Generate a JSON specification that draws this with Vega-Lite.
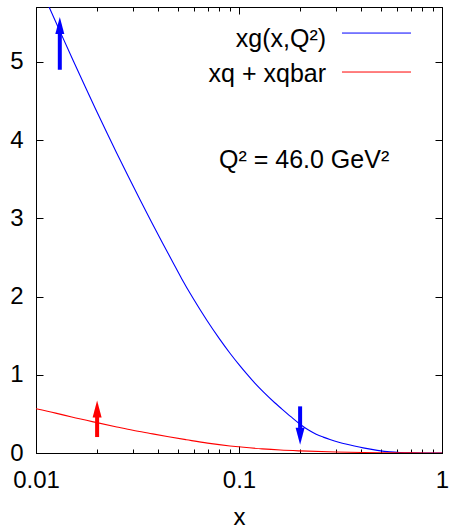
{
  "$schema": "https://vega.github.io/schema/vega-lite/v6.json",
  "width": 406,
  "height": 446,
  "autosize": {"type": "none"},
  "padding": {"left": 36, "top": 7, "right": 7, "bottom": 75},
  "background": "white",
  "config": {
    "font": "Liberation Sans",
    "view": {"stroke": "black", "strokeWidth": 1},
    "axis": {
      "domainColor": "black", "tickColor": "black", "labelColor": "black", "titleColor": "black",
      "grid": false, "labelFont": "Liberation Sans", "titleFont": "Liberation Sans",
      "labelFontSize": 24, "titleFontSize": 24, "titleFontWeight": "normal",
      "domainWidth": 1, "tickWidth": 1, "labelFlush": false, "labelOverlap": false
    }
  },
  "datasets": {
    "curves": [
      {"series": "xg", "x": 0.01, "y": 6.08},
      {"series": "xg", "x": 0.011, "y": 5.835},
      {"series": "xg", "x": 0.0116, "y": 5.70},
      {"series": "xg", "x": 0.013, "y": 5.413},
      {"series": "xg", "x": 0.0153, "y": 5.006},
      {"series": "xg", "x": 0.0175, "y": 4.677},
      {"series": "xg", "x": 0.0196, "y": 4.403},
      {"series": "xg", "x": 0.0225, "y": 4.077},
      {"series": "xg", "x": 0.025, "y": 3.832},
      {"series": "xg", "x": 0.0285, "y": 3.533},
      {"series": "xg", "x": 0.0325, "y": 3.239},
      {"series": "xg", "x": 0.037, "y": 2.955},
      {"series": "xg", "x": 0.042, "y": 2.683},
      {"series": "xg", "x": 0.047, "y": 2.448},
      {"series": "xg", "x": 0.0522, "y": 2.228},
      {"series": "xg", "x": 0.0593, "y": 1.98},
      {"series": "xg", "x": 0.0693, "y": 1.70},
      {"series": "xg", "x": 0.08, "y": 1.462},
      {"series": "xg", "x": 0.0903, "y": 1.275},
      {"series": "xg", "x": 0.1, "y": 1.129},
      {"series": "xg", "x": 0.1092, "y": 1.01},
      {"series": "xg", "x": 0.12, "y": 0.889},
      {"series": "xg", "x": 0.1318, "y": 0.78},
      {"series": "xg", "x": 0.15, "y": 0.642},
      {"series": "xg", "x": 0.159, "y": 0.585},
      {"series": "xg", "x": 0.18, "y": 0.465},
      {"series": "xg", "x": 0.2, "y": 0.368},
      {"series": "xg", "x": 0.22, "y": 0.293},
      {"series": "xg", "x": 0.24, "y": 0.24},
      {"series": "xg", "x": 0.26, "y": 0.203},
      {"series": "xg", "x": 0.2805, "y": 0.173},
      {"series": "xg", "x": 0.31, "y": 0.138},
      {"series": "xg", "x": 0.34, "y": 0.111},
      {"series": "xg", "x": 0.37, "y": 0.089},
      {"series": "xg", "x": 0.409, "y": 0.065},
      {"series": "xg", "x": 0.48, "y": 0.034},
      {"series": "xg", "x": 0.555, "y": 0.014},
      {"series": "xg", "x": 0.62, "y": 0.006},
      {"series": "xg", "x": 0.7, "y": 0.0018},
      {"series": "xg", "x": 0.8, "y": 0.0003},
      {"series": "xg", "x": 0.9, "y": 0},
      {"series": "xg", "x": 1.0, "y": 0},
      {"series": "xq", "x": 0.01, "y": 0.566},
      {"series": "xq", "x": 0.0125, "y": 0.51},
      {"series": "xq", "x": 0.015, "y": 0.46},
      {"series": "xq", "x": 0.0197, "y": 0.391},
      {"series": "xq", "x": 0.025, "y": 0.333},
      {"series": "xq", "x": 0.03, "y": 0.29},
      {"series": "xq", "x": 0.0365, "y": 0.25},
      {"series": "xq", "x": 0.045, "y": 0.208},
      {"series": "xq", "x": 0.055, "y": 0.17},
      {"series": "xq", "x": 0.07, "y": 0.126},
      {"series": "xq", "x": 0.0903, "y": 0.09},
      {"series": "xq", "x": 0.1, "y": 0.079},
      {"series": "xq", "x": 0.13, "y": 0.053},
      {"series": "xq", "x": 0.16, "y": 0.038},
      {"series": "xq", "x": 0.2, "y": 0.027},
      {"series": "xq", "x": 0.3, "y": 0.013},
      {"series": "xq", "x": 0.41, "y": 0.0065},
      {"series": "xq", "x": 0.5, "y": 0.0035},
      {"series": "xq", "x": 0.7, "y": 0.001},
      {"series": "xq", "x": 1.0, "y": 0}
    ],
    "arrows": [
      {"series": "xg", "dir": "up", "x": 0.0131, "y_from": 4.898, "y_base": 5.36, "y_tip": 5.572},
      {"series": "xq", "dir": "up", "x": 0.02, "y_from": 0.204, "y_base": 0.48, "y_tip": 0.672},
      {"series": "xg", "dir": "down", "x": 0.2, "y_from": 0.596, "y_base": 0.32, "y_tip": 0.106}
    ],
    "legend": [
      {"series": "xg", "label": "xg(x,Q²)", "tx": 0.2684, "ty": 5.193, "lx1": 0.3216, "lx2": 0.7035, "ly": 5.367},
      {"series": "xq", "label": "xq + xqbar", "tx": 0.2684, "ty": 4.741, "lx1": 0.3216, "lx2": 0.7035, "ly": 4.869}
    ],
    "note": [
      {"text": "Q² = 46.0 GeV²", "x": 0.0797, "y": 3.646}
    ]
  },
  "resolve": {"axis": {"x": "independent", "y": "independent"}},
  "layer": [
    {
      "data": {"name": "curves"},
      "mark": {"type": "line", "clip": true, "strokeWidth": 1.1, "interpolate": "monotone"},
      "encoding": {
        "x": {"field": "x", "type": "quantitative",
          "scale": {"type": "log", "domain": [0.01, 1], "nice": false},
          "axis": {
            "orient": "bottom",
            "values": [0.01,0.02,0.03,0.04,0.05,0.06,0.07,0.08,0.09,0.1,0.2,0.3,0.4,0.5,0.6,0.7,0.8,0.9,1],
            "format": "~g",
            "labelExpr": "abs(log(datum.value)/LN10 - round(log(datum.value)/LN10)) < 0.001 ? datum.label : ''",
            "tickSize": {"condition": {"test": "abs(log(datum.value)/LN10 - round(log(datum.value)/LN10)) < 0.001", "value": -7}, "value": -4},
            "labelPadding": 22,
            "title": "x",
            "titlePadding": 10
          }
        },
        "y": {"field": "y", "type": "quantitative",
          "scale": {"domain": [0, 5.7], "nice": false, "zero": false},
          "axis": {"orient": "left", "values": [0,1,2,3,4,5], "tickSize": -7, "labelPadding": 20, "title": null}
        },
        "color": {"field": "series", "type": "nominal", "scale": {"domain": ["xg", "xq"], "range": ["#0000ff", "#ff0000"]}, "legend": null}
      }
    },
    {
      "data": {"name": "arrows"},
      "mark": {"type": "rule", "strokeWidth": 4, "strokeCap": "butt"},
      "encoding": {
        "x": {"field": "x", "type": "quantitative",
          "scale": {"type": "log", "domain": [0.01, 1], "nice": false},
          "axis": {
            "orient": "top",
            "values": [0.01,0.02,0.03,0.04,0.05,0.06,0.07,0.08,0.09,0.1,0.2,0.3,0.4,0.5,0.6,0.7,0.8,0.9,1],
            "labels": false,
            "tickSize": {"condition": {"test": "abs(log(datum.value)/LN10 - round(log(datum.value)/LN10)) < 0.001", "value": -7}, "value": -4},
            "title": null
          }
        },
        "y": {"field": "y_from", "type": "quantitative",
          "scale": {"domain": [0, 5.7], "nice": false, "zero": false},
          "axis": {"orient": "right", "values": [0,1,2,3,4,5], "tickSize": -7, "labels": false, "title": null}
        },
        "y2": {"field": "y_base"},
        "color": {"field": "series", "type": "nominal", "scale": {"domain": ["xg", "xq"], "range": ["#0000ff", "#ff0000"]}, "legend": null}
      }
    },
    {
      "data": {"name": "arrows"},
      "mark": {"type": "point", "filled": true, "opacity": 1, "size": 400, "strokeWidth": 0},
      "encoding": {
        "x": {"field": "x", "type": "quantitative", "scale": {"type": "log", "domain": [0.01, 1], "nice": false}, "axis": null},
        "y": {"field": "y_tip", "type": "quantitative", "scale": {"domain": [0, 5.7], "nice": false, "zero": false}, "axis": null},
        "shape": {"field": "dir", "type": "nominal", "scale": {"domain": ["up", "down"], "range": ["M0,0L0.45,1.7L-0.45,1.7Z", "M0,0L0.45,-1.7L-0.45,-1.7Z"]}, "legend": null},
        "color": {"field": "series", "type": "nominal", "scale": {"domain": ["xg", "xq"], "range": ["#0000ff", "#ff0000"]}, "legend": null}
      }
    },
    {
      "data": {"name": "legend"},
      "mark": {"type": "rule", "strokeWidth": 1},
      "encoding": {
        "x": {"field": "lx1", "type": "quantitative", "scale": {"type": "log", "domain": [0.01, 1], "nice": false}, "axis": null},
        "x2": {"field": "lx2"},
        "y": {"field": "ly", "type": "quantitative", "scale": {"domain": [0, 5.7], "nice": false, "zero": false}, "axis": null},
        "color": {"field": "series", "type": "nominal", "scale": {"domain": ["xg", "xq"], "range": ["#0000ff", "#ff0000"]}, "legend": null}
      }
    },
    {
      "data": {"name": "legend"},
      "mark": {"type": "text", "align": "right", "baseline": "alphabetic", "fontSize": 25, "font": "Liberation Sans", "color": "black"},
      "encoding": {
        "x": {"field": "tx", "type": "quantitative", "scale": {"type": "log", "domain": [0.01, 1], "nice": false}, "axis": null},
        "y": {"field": "ty", "type": "quantitative", "scale": {"domain": [0, 5.7], "nice": false, "zero": false}, "axis": null},
        "text": {"field": "label"}
      }
    },
    {
      "data": {"name": "note"},
      "mark": {"type": "text", "align": "left", "baseline": "alphabetic", "fontSize": 25, "font": "Liberation Sans", "color": "black"},
      "encoding": {
        "x": {"field": "x", "type": "quantitative", "scale": {"type": "log", "domain": [0.01, 1], "nice": false}, "axis": null},
        "y": {"field": "y", "type": "quantitative", "scale": {"domain": [0, 5.7], "nice": false, "zero": false}, "axis": null},
        "text": {"field": "text"}
      }
    }
  ]
}
